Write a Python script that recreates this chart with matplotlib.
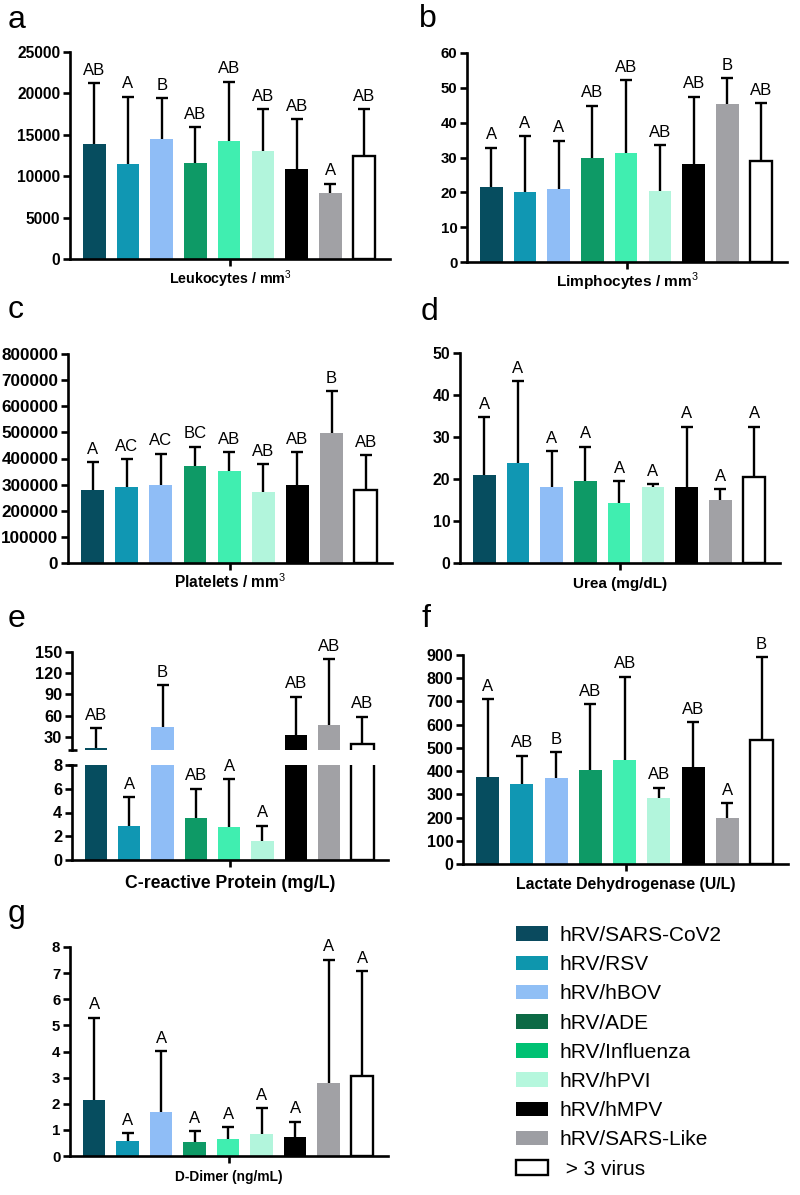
import matplotlib
matplotlib.use("Agg")
import matplotlib.pyplot as plt
import matplotlib.transforms as mtransforms
from matplotlib.patches import Patch

plt.rcParams["font.family"] = ["Liberation Sans", "DejaVu Sans"]
plt.rcParams["mathtext.fontset"] = "custom"
plt.rcParams["mathtext.rm"] = "Liberation Sans"
plt.rcParams["mathtext.bf"] = "Liberation Sans:bold"

# ---------------- data ----------------
groups = ["hRV/SARS-CoV2", "hRV/RSV", "hRV/hBOV", "hRV/ADE", "hRV/Influenza",
          "hRV/hPVI", "hRV/hMPV", "hRV/SARS-Like", " > 3 virus"]

leuko_mean = [13900, 11500, 14500, 11600, 14200, 13100, 10900, 8000, 12400]
leuko_upper = [21200, 19600, 19400, 15900, 21400, 18100, 16900, 9100, 18100]
leuko_letters = ["AB", "A", "B", "AB", "AB", "AB", "AB", "A", "AB"]

limph_mean = [21.4, 20.2, 21.1, 30.0, 31.4, 20.4, 28.1, 45.3, 29.0]
limph_upper = [32.8, 36.2, 34.8, 44.9, 52.2, 33.5, 47.5, 52.7, 45.6]
limph_letters = ["A", "A", "A", "AB", "AB", "AB", "AB", "B", "AB"]

plat_mean = [278000, 290000, 297000, 370000, 351000, 270000, 300000, 499000, 281000]
plat_upper = [385000, 398000, 418000, 445000, 425000, 379000, 425000, 659000, 413000]
plat_letters = ["A", "AC", "AC", "BC", "AB", "AB", "AB", "B", "AB"]

urea_mean = [20.9, 23.7, 18.0, 19.5, 14.2, 18.0, 18.0, 15.0, 20.4]
urea_upper = [34.8, 43.3, 26.7, 27.7, 19.5, 18.7, 32.5, 17.6, 32.5]
urea_letters = ["A"] * 9

crp_mean = [14.5, 2.9, 44.2, 3.5, 2.8, 1.6, 32.8, 47.1, 19.6]
crp_upper = [42.0, 5.3, 103.5, 6.0, 6.8, 2.9, 86.9, 140.0, 58.5]
crp_letters = ["AB", "A", "B", "AB", "A", "A", "AB", "AB", "AB"]

ldh_mean = [376, 343, 372, 405, 449, 286, 418, 200, 535]
ldh_upper = [709, 466, 482, 689, 807, 329, 611, 261, 891]
ldh_letters = ["A", "AB", "B", "AB", "AB", "AB", "AB", "A", "B"]

ddim_mean = [2.14, 0.58, 1.70, 0.54, 0.64, 0.86, 0.74, 2.78, 3.06]
ddim_upper = [5.30, 0.87, 4.02, 0.95, 1.10, 1.82, 1.31, 7.52, 7.08]
ddim_letters = ["A"] * 9

# ---------------- style ----------------
bar_colors = ["#064d5f", "#1097b3", "#8fbdf6", "#0e9a66", "#40eeb0",
              "#b2f5dc", "#000000", "#a1a1a5", "#ffffff"]
legend_colors = ["#0a4a5e", "#0e96ad", "#90bff5", "#0c6a45", "#00c173",
                 "#b5f7dd", "#000000", "#9d9ea3", "#ffffff"]

W, H = 800, 1195
fig = plt.figure(figsize=(W / 100, H / 100), dpi=100)

XLIM = (-0.72, 8.77)
BW = 0.67
LW = 1.9
ELW = 1.7
LET_FS = 12


def rect(l, r, bot, top):
    return [l / W, 1 - bot / H, (r - l) / W, (bot - top) / H]


def style_ax(ax, yticks, ylim, tick_fs, show_bottom=True, ylabels=None):
    ax.set_xlim(*XLIM)
    ax.set_ylim(*ylim)
    for s in ["top", "right"]:
        ax.spines[s].set_visible(False)
    ax.spines["left"].set_linewidth(LW)
    ax.spines["bottom"].set_linewidth(LW)
    if not show_bottom:
        ax.spines["bottom"].set_visible(False)
        ax.set_xticks([])
    else:
        ax.set_xticks([(XLIM[0] + XLIM[1]) / 2])
        ax.set_xticklabels([""])
        ax.tick_params(axis="x", length=5, width=LW)
    if ylabels is None:
        ylabels = [str(t) for t in yticks]
    ax.set_yticks(yticks)
    ax.set_yticklabels(ylabels, fontweight="bold", fontsize=tick_fs)
    ax.tick_params(axis="y", length=5, width=LW, pad=2)


def draw_bars(ax, means, uppers, letters, mask=None):
    n = len(means)
    if mask is None:
        mask = [True] * n
    x = list(range(n))
    ax.bar(x, means, width=BW, color=bar_colors, edgecolor=["none"] * 8 + ["black"],
           linewidth=ELW, zorder=2)
    xs = [i for i in x if mask[i]]
    ms = [means[i] for i in xs]
    up = [uppers[i] - means[i] for i in xs]
    eb = ax.errorbar(xs, ms, yerr=[[0] * len(xs), up], fmt="none", ecolor="black",
                     elinewidth=ELW, capsize=4.6, capthick=ELW, zorder=3)
    caplines = eb[1]
    if len(caplines) == 2:
        caplines[0].set_visible(False)
    for i in xs:
        ax.annotate(letters[i], xy=(i, uppers[i]), xytext=(0, 6), textcoords="offset points",
                    ha="center", va="baseline", fontsize=LET_FS, annotation_clip=False)


def xlabel(ax, text, fs, off=25):
    ax.annotate(text, xy=(0.5, 0), xycoords="axes fraction", xytext=(0, -off * 0.72),
                textcoords="offset points", ha="center", va="baseline",
                fontsize=fs, fontweight="bold")


def panel(tag, x, y):
    fig.text(x / W, 1 - y / H, tag, fontsize=23, ha="left", va="baseline")


def break_mark(ax, yval):
    tr = mtransforms.blended_transform_factory(ax.transAxes, ax.transData)
    half = 4.5 / (ax.get_position().width * W)
    ax.plot([-half, half], [yval, yval], color="black", lw=LW, transform=tr,
            clip_on=False, solid_capstyle="butt", zorder=5)


# a
ax = fig.add_axes(rect(70, 390, 259, 52))
draw_bars(ax, leuko_mean, leuko_upper, leuko_letters)
style_ax(ax, [0, 5000, 10000, 15000, 20000, 25000], (0, 25000), 11.2)
xlabel(ax, r"Leukocytes / mm$^{3}$", 10.3)
panel("a", 8, 28)

# b
ax = fig.add_axes(rect(467, 787, 262, 53))
draw_bars(ax, limph_mean, limph_upper, limph_letters)
style_ax(ax, [0, 10, 20, 30, 40, 50, 60], (0, 60), 10.8)
xlabel(ax, r"Limphocytes / mm$^{3}$", 11.1)
panel("b", 419, 27)

# c
ax = fig.add_axes(rect(68, 392, 563, 354))
draw_bars(ax, plat_mean, plat_upper, plat_letters)
style_ax(ax, list(range(0, 800001, 100000)), (0, 800000), 12.3)
xlabel(ax, r"Platelets / mm$^{3}$", 11.2)
panel("c", 8, 318)

# d
ax = fig.add_axes(rect(460, 780, 563, 353))
draw_bars(ax, urea_mean, urea_upper, urea_letters)
style_ax(ax, [0, 10, 20, 30, 40, 50], (0, 50), 11.4)
xlabel(ax, "Urea (mg/dL)", 11.0)
panel("d", 421, 320)

# e (broken axis)
ax_lo = fig.add_axes(rect(72, 388, 860, 765))
ax_hi = fig.add_axes(rect(72, 388, 749.5, 652))
hi_mask = [m > 8 for m in crp_mean]
lo_mask = [not v for v in hi_mask]
draw_bars(ax_lo, crp_mean, crp_upper, crp_letters, mask=lo_mask)
draw_bars(ax_hi, crp_mean, crp_upper, crp_letters, mask=hi_mask)
style_ax(ax_lo, [0, 2, 4, 6, 8], (0, 8), 11.8)
style_ax(ax_hi, [30, 60, 90, 120, 150], (12, 150), 11.8, show_bottom=False)
for a_ in (ax_lo, ax_hi):
    a_.patch.set_alpha(0)
break_mark(ax_lo, 8)
break_mark(ax_hi, 12)
xlabel(ax_lo, "C-reactive Protein (mg/L)", 12.7, off=28)
panel("e", 8, 627)

# f
ax = fig.add_axes(rect(463, 788, 864, 655))
draw_bars(ax, ldh_mean, ldh_upper, ldh_letters)
style_ax(ax, list(range(0, 901, 100)), (0, 900), 11.5)
xlabel(ax, "Lactate Dehydrogenase (U/L)", 11.4)
panel("f", 422, 627)

# g
ax = fig.add_axes(rect(70, 388, 1156, 947))
draw_bars(ax, ddim_mean, ddim_upper, ddim_letters)
style_ax(ax, list(range(0, 9)), (0, 8), 10.8)
xlabel(ax, "D-Dimer (ng/mL)", 9.9)
panel("g", 8, 922)

# legend
handles = [Patch(facecolor=c, edgecolor=("black" if c == "#ffffff" else "none"),
                 linewidth=ELW) for c in legend_colors]
fig.legend(handles, groups, loc="upper left", bbox_to_anchor=(516 / W, 1 - 926 / H),
           frameon=False, fontsize=15, handlelength=1.55, handleheight=0.7,
           handletextpad=0.55, labelspacing=0.49, borderpad=0, borderaxespad=0)

fig.savefig("out.png", dpi=100)
